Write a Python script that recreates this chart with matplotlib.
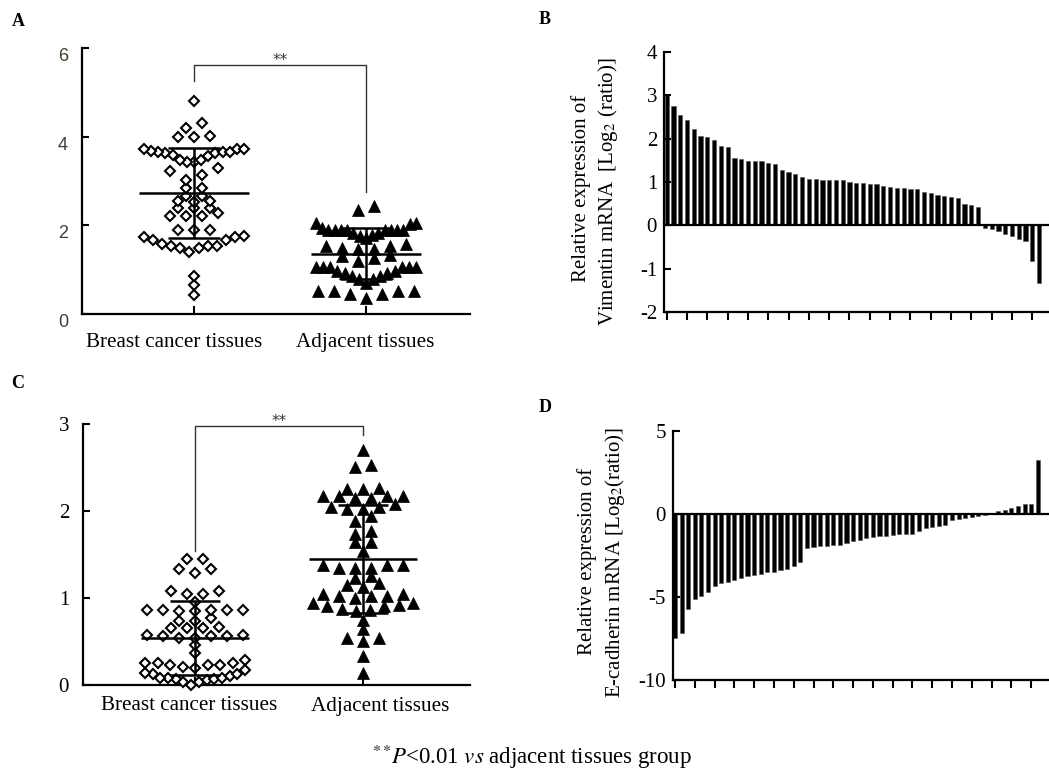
import numpy as np
import matplotlib
matplotlib.use('Agg')
import matplotlib.pyplot as plt

plt.rcParams['font.family'] = ['Liberation Serif', 'DejaVu Serif']
plt.rcParams['mathtext.fontset'] = 'stix'
plt.rcParams['axes.unicode_minus'] = False

# ---------------- data ----------------
groups = ['Breast cancer tissues', 'Adjacent tissues']

a_cancer = [4.81, 4.31, 4.20, 4.02, 3.99, 3.99,
            3.73, 3.65, 3.67, 3.65, 3.59, 3.48, 3.42, 3.42, 3.48, 3.57, 3.63, 3.63, 3.65, 3.73, 3.73,
            3.23, 3.14, 3.29, 3.03, 2.84, 2.84, 2.66, 2.66, 2.54, 2.54, 2.53,
            2.40, 2.40, 2.40, 2.20, 2.20, 2.27, 2.20, 1.90, 1.90, 1.90,
            1.75, 1.74, 1.68, 1.58, 1.53, 1.49, 1.40, 1.49, 1.53, 1.54, 1.66, 1.74,
            0.86, 0.65, 0.42]
a_adjacent = [2.43, 2.34,
              1.90, 1.90, 1.90, 1.83, 1.79, 1.90, 2.05, 1.90, 2.05, 1.90, 1.83, 1.90, 1.94, 2.02, 1.90,
              1.71, 1.75,
              1.47, 1.34, 1.57, 1.49, 1.53, 1.53, 1.30, 1.47,
              1.19, 1.26,
              1.06, 1.06, 1.06, 0.96, 0.92, 0.86, 0.79, 0.71, 0.79, 0.86, 0.92, 0.98, 1.06, 1.06, 1.06,
              0.51, 0.51, 0.46, 0.35, 0.46, 0.51, 0.53]
a_mean = [2.73, 1.36]
a_sd = [1.02, 0.58]

c_cancer = [1.45, 1.45, 1.33, 1.29, 1.33, 1.08, 1.05, 1.05, 1.08, 0.95,
            0.86, 0.86, 0.85, 0.85, 0.86, 0.86, 0.86,
            0.77, 0.73, 0.74, 0.67, 0.65, 0.65, 0.65,
            0.58, 0.58, 0.56, 0.54, 0.56, 0.54, 0.56, 0.46, 0.37,
            0.25, 0.25, 0.23, 0.21, 0.29, 0.23, 0.23, 0.25,
            0.19, 0.14, 0.13, 0.08, 0.07, 0.07, 0.04, 0.00, 0.04, 0.08, 0.06, 0.08, 0.10, 0.13, 0.17]
c_adjacent = [2.70, 2.51, 2.53,
              2.25, 2.17, 2.17, 2.15, 2.15, 2.17, 2.17, 2.25, 2.26,
              2.05, 2.02, 1.94, 2.02, 2.05, 2.08, 1.89,
              1.77, 1.73, 1.64, 1.64, 1.54,
              1.38, 1.38, 1.34, 1.34, 1.34, 1.38,
              1.25, 1.17, 1.13, 1.15, 1.23,
              1.05, 1.02, 1.00, 0.94, 0.92, 0.94, 1.02, 1.02, 1.05,
              0.91, 0.91, 0.85, 0.75, 0.86, 0.87, 0.64,
              0.54, 0.51, 0.54, 0.33, 0.14]
c_mean = [0.54, 1.45]
c_sd = [0.42, 0.62]

vimentin = [3.02, 2.76, 2.54, 2.42, 2.22, 2.07, 2.05, 1.97, 1.84, 1.81,
            1.55, 1.52, 1.49, 1.49, 1.49, 1.44, 1.42, 1.28, 1.22, 1.18,
            1.12, 1.08, 1.07, 1.05, 1.05, 1.05, 1.05, 1.00, 0.97, 0.97,
            0.96, 0.95, 0.91, 0.89, 0.87, 0.86, 0.84, 0.83, 0.77, 0.75,
            0.69, 0.68, 0.65, 0.64, 0.50, 0.46, 0.42,
            -0.05, -0.08, -0.13, -0.21, -0.25, -0.31, -0.36, -0.83, -1.33]
ecadherin = [-7.45, -7.18, -5.74, -5.12, -4.94, -4.72, -4.34, -4.13, -4.08, -3.96,
             -3.88, -3.72, -3.65, -3.60, -3.52, -3.47, -3.40, -3.30, -3.12, -2.90,
             -2.06, -1.98, -1.94, -1.93, -1.89, -1.85, -1.73, -1.62, -1.57, -1.45,
             -1.37, -1.33, -1.33, -1.29, -1.23, -1.22, -1.18, -1.03, -0.82, -0.76,
             -0.73, -0.65, -0.38, -0.33, -0.23, -0.17, -0.10, -0.07, 0.09, 0.16,
             0.24, 0.35, 0.51, 0.61, 0.61, 3.27]

# ---------------- layout ----------------
W, H = 1049, 777
fig = plt.figure(figsize=(W / 100, H / 100), dpi=100)


def box(l, t, r, b):
    return [l / W, 1 - b / H, (r - l) / W, (b - t) / H]


def row_layout(ax, values, xc, gap_px=5.0, hmax_px=16.5, smax=16.0, wmax=100.0):
    """Prism-like scatter: group close values into rows, spread each row sideways."""
    tr = ax.transData
    ppu_x = tr.transform((1, 0))[0] - tr.transform((0, 0))[0]
    ppu_y = tr.transform((0, 1))[1] - tr.transform((0, 0))[1]
    g = gap_px / ppu_y
    hmax = hmax_px / ppu_y
    vals = np.sort(np.asarray(values, float))
    rows, cur = [], [vals[0]]
    for v in vals[1:]:
        if v - cur[-1] > g + 1e-9 or v - cur[0] > hmax + 1e-9:
            rows.append(cur)
            cur = [v]
        else:
            cur.append(v)
    rows.append(cur)
    xs, ys = [], []
    for r in rows:
        n = len(r)
        s = smax if n == 1 else min(smax, wmax / (n - 1))
        slots = (np.arange(n) - (n - 1) / 2) * s
        order = np.argsort(np.abs(slots) + np.arange(n) * 1e-6, kind='stable')
        for v, k in zip(r, order):
            xs.append(xc + slots[k] / ppu_x)
            ys.append(v)
    return np.array(xs), np.array(ys)


def scatter_panel(ax, left, right, means, sds, ylim, yticks, xlim, tick_font,
                  tick_color, bracket, star):
    ax.set_xlim(*xlim)
    ax.set_ylim(*ylim)
    for s in ['top', 'right']:
        ax.spines[s].set_visible(False)
    for s in ['left', 'bottom']:
        ax.spines[s].set_linewidth(1.6)
    ax.set_xticks([1, 2])
    ax.set_xticklabels([])
    ax.tick_params(axis='x', direction='in', length=6, width=1.5)
    ax.set_yticks(yticks)
    ax.tick_params(axis='y', direction='in', length=5, width=1.5, pad=10)
    for lab in ax.get_yticklabels():
        lab.set_fontfamily(tick_font[0])
        lab.set_fontsize(tick_font[1])
        lab.set_color(tick_color)
    xl, yl = row_layout(ax, left, 1)
    xr, yr = row_layout(ax, right, 2)
    ax.plot(xl, yl, linestyle='none', marker='D', markersize=5.6,
            markerfacecolor='white', markeredgecolor='black', markeredgewidth=1.5, zorder=3,
            clip_on=False)
    ax.plot(xr, yr, linestyle='none', marker='^', markersize=8.2,
            markerfacecolor='black', markeredgecolor='black', markeredgewidth=0.5, zorder=3,
            clip_on=False)
    for xc, m, sd in zip([1, 2], means, sds):
        ax.hlines(m, xc - 0.32, xc + 0.32, color='black', lw=1.8, zorder=4)
        ax.vlines(xc, m - sd, m + sd, color='black', lw=1.8, zorder=4)
        ax.hlines([m - sd, m + sd], xc - 0.15, xc + 0.15, color='black', lw=1.8, zorder=4)
    y0, ytop, y1 = bracket
    ax.plot([1, 1, 2, 2], [y0, ytop, ytop, y1], color='#333333', lw=1.0, clip_on=False)
    ax.text(1.5, star, '**', ha='center', va='center', fontsize=11, color='#333333',
            family='DejaVu Sans', clip_on=False)


# Panel A
axA = fig.add_axes(box(82, 48, 470, 314))
scatter_panel(axA, a_cancer, a_adjacent, a_mean, a_sd, (0, 6), [0, 2, 4, 6],
              (0.349, 2.605), ('Liberation Sans', 13), '#4a3c2c',
              (5.26, 5.62, 2.75), 5.72)
for lab in axA.get_yticklabels():
    lab.set_verticalalignment('top')
fig.text(174 / W, 1 - 343 / H, groups[0], ha='center', va='center', fontsize=15.2)
fig.text(365 / W, 1 - 343 / H, groups[1], ha='center', va='center', fontsize=15.2)

# Panel C
axC = fig.add_axes(box(83, 424, 470, 685))
scatter_panel(axC, c_cancer, c_adjacent, c_mean, c_sd, (0, 3), [0, 1, 2, 3],
              (0.333, 2.637), ('Liberation Serif', 15), 'black',
              (1.54, 2.98, 2.87), 3.03)
fig.text(189 / W, 1 - 706 / H, groups[0], ha='center', va='center', fontsize=15.2)
fig.text(380 / W, 1 - 706 / H, groups[1], ha='center', va='center', fontsize=15.2)


def bar_panel(ax, vals, ylim, yticks, xlim):
    x = np.arange(len(vals))
    ax.bar(x, vals, width=0.62, color='black', edgecolor='#555555', linewidth=0.4)
    ax.axhline(0, color='black', lw=1.6)
    ax.set_xlim(*xlim)
    ax.set_ylim(*ylim)
    for s in ['top', 'right']:
        ax.spines[s].set_visible(False)
    for s in ['left', 'bottom']:
        ax.spines[s].set_linewidth(1.6)
    ax.set_xticks(x[::3])
    ax.set_xticklabels([])
    ax.tick_params(axis='x', direction='out', length=6, width=1.5)
    ax.set_yticks(yticks)
    ax.tick_params(axis='y', direction='in', length=5, width=1.5, labelsize=15, pad=5)


# Panel B
axB = fig.add_axes(box(664, 52, 1049, 312))
bar_panel(axB, vimentin, (-2, 4), list(range(-2, 5)), (-0.4, 56.47))
fig.text(581 / W, 1 - 188 / H, 'Relative expression of', rotation=90,
         ha='center', va='center', fontsize=15)
fig.text(608 / W, 1 - 192 / H, r'Vimentin mRNA  [Log$_2$ (ratio)]', rotation=90,
         ha='center', va='center', fontsize=15)

# Panel D
axD = fig.add_axes(box(673, 431, 1049, 680))
bar_panel(axD, ecadherin, (-10, 5), [-10, -5, 0, 5], (-0.3, 56.7))
fig.text(587 / W, 1 - 561 / H, 'Relative expression of', rotation=90,
         ha='center', va='center', fontsize=15)
fig.text(615 / W, 1 - 563 / H, r'E-cadherin mRNA [Log$_2$(ratio)]', rotation=90,
         ha='center', va='center', fontsize=15)

# Panel letters
for t, (px, py) in zip('ABCD', [(18, 22), (545, 20), (18, 384), (545, 407)]):
    fig.text(px / W, 1 - py / H, t, ha='center', va='center', fontsize=13, fontweight='bold')

# Footnote
fig.text(532 / W, 1 - 757 / H,
         r'$^{**}\!\mathit{P}$<0.01 $\mathit{vs}$ adjacent tissues group',
         ha='center', va='center', fontsize=16.5)

fig.savefig('out.png', dpi=100)
